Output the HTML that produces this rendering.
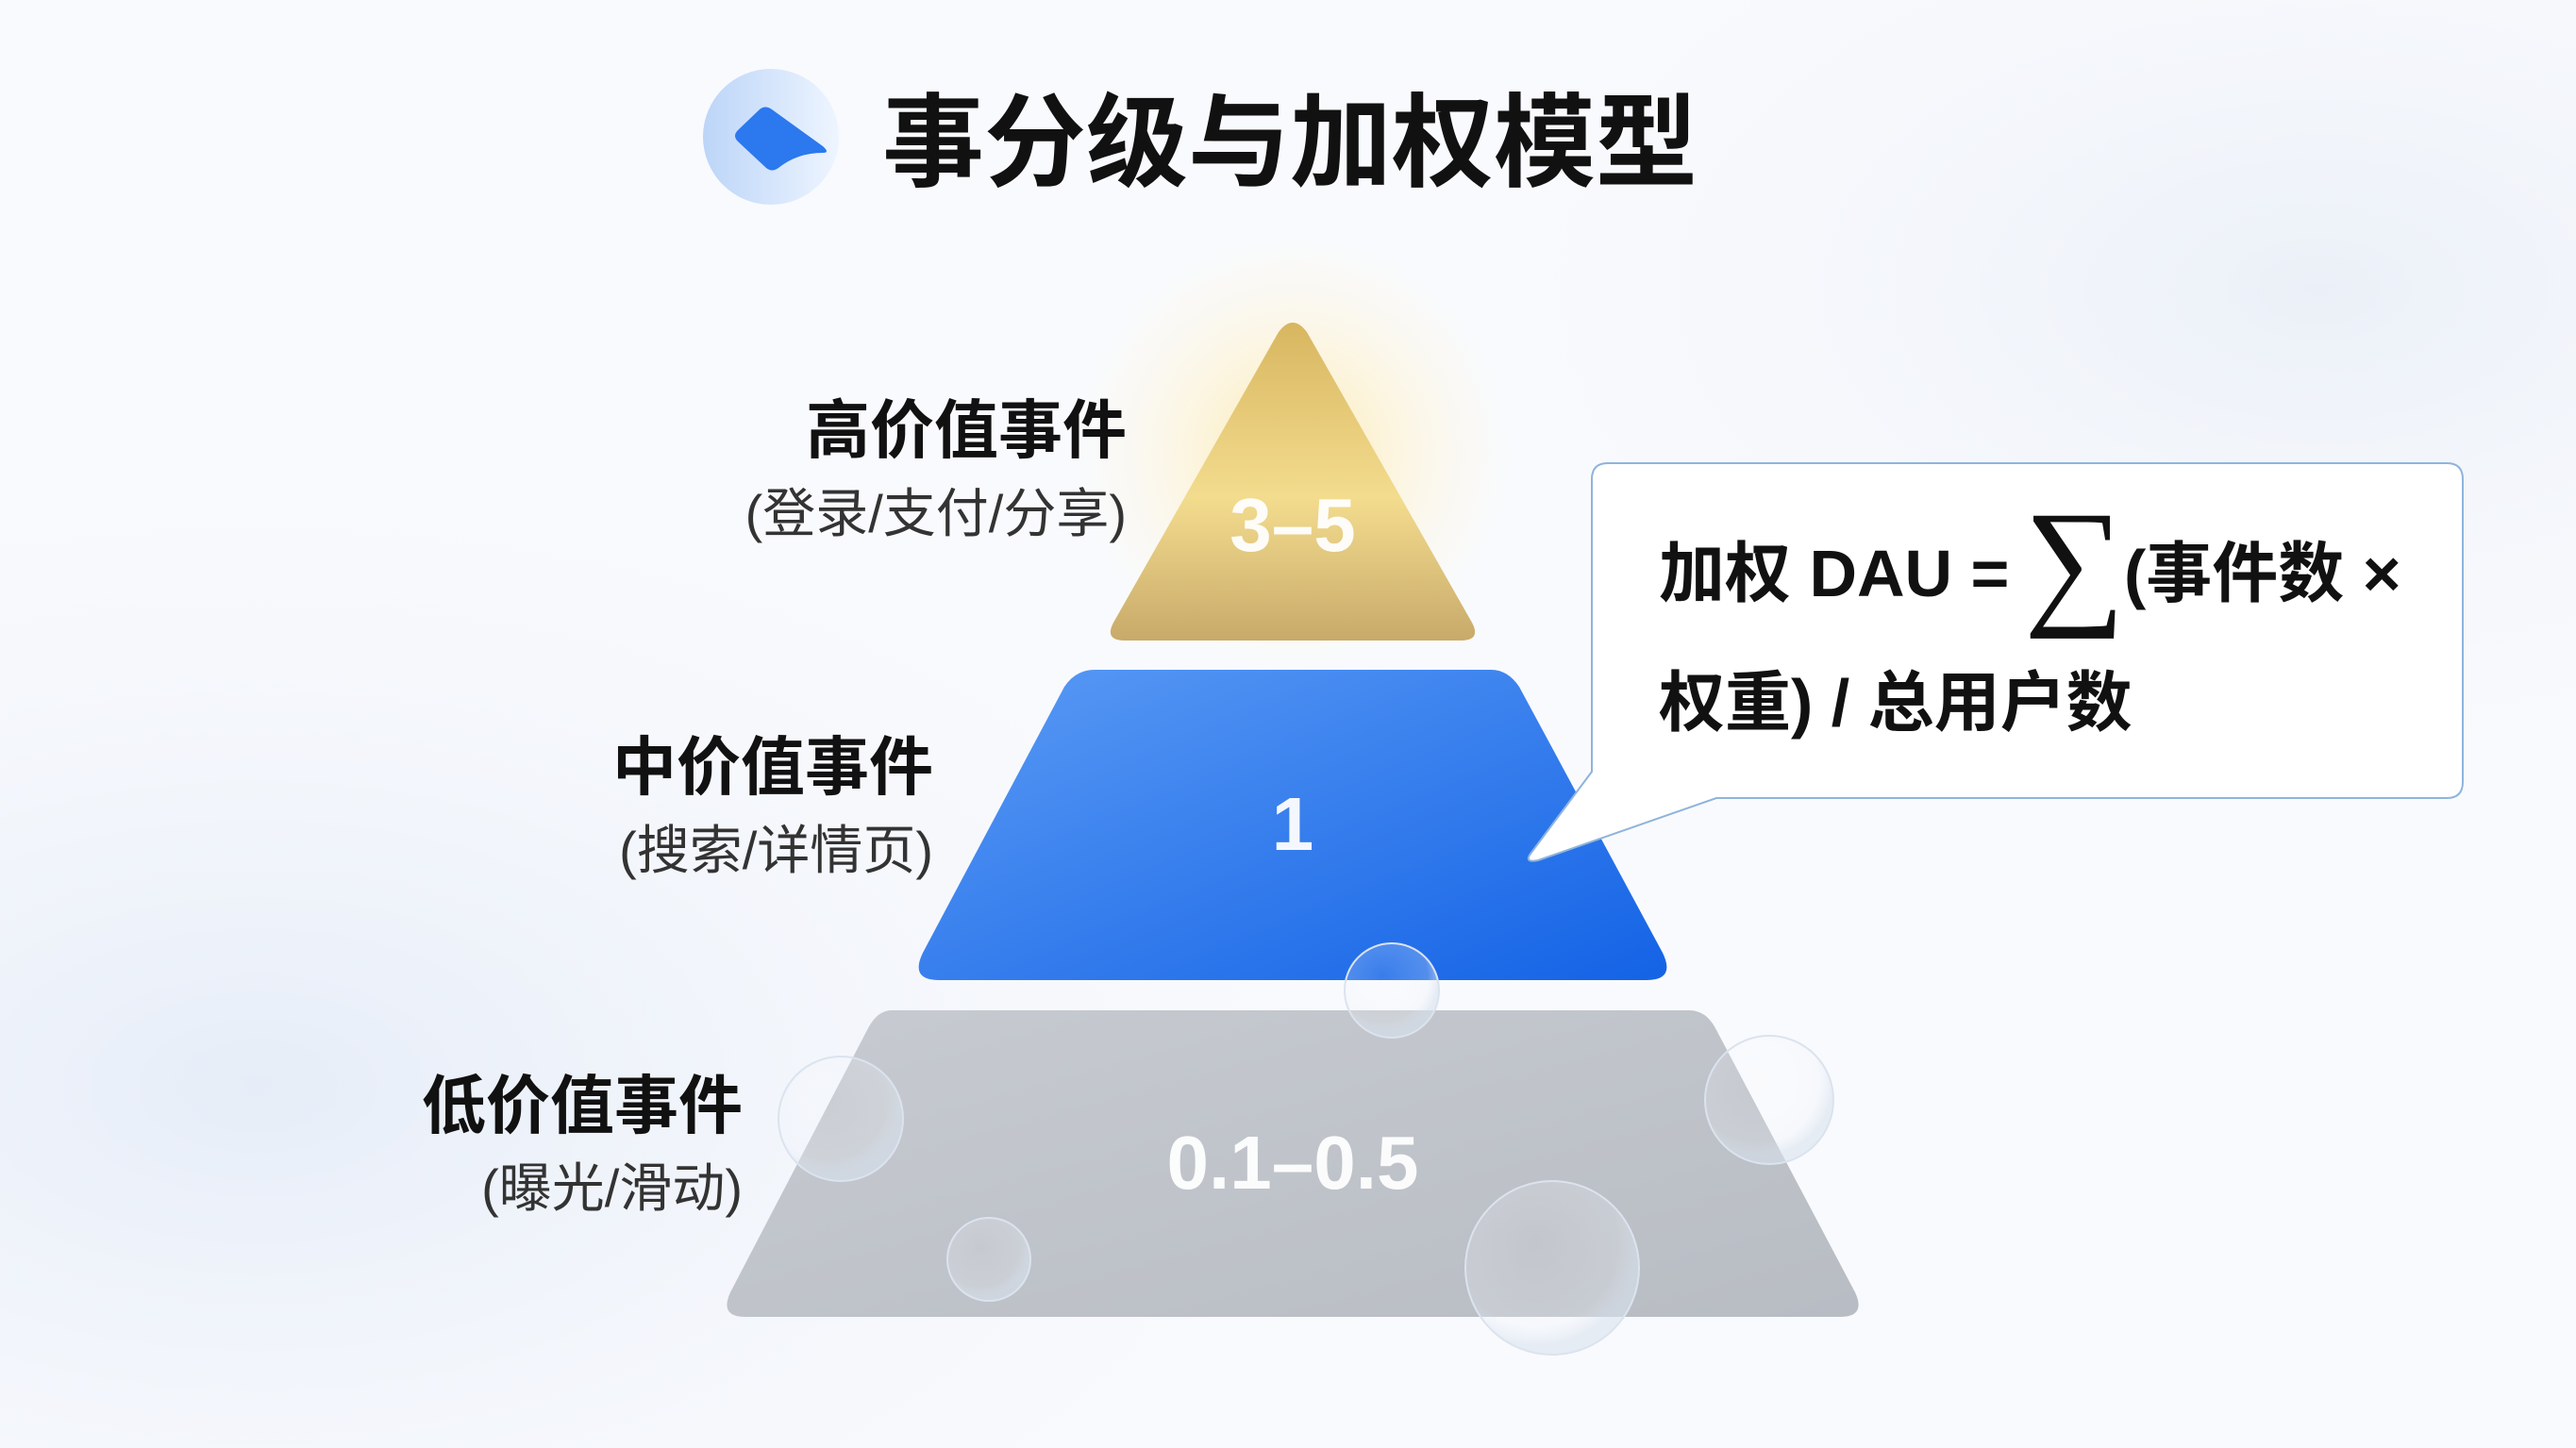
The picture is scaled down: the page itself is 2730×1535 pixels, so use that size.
<!DOCTYPE html>
<html><head><meta charset="utf-8"><style>
html,body{margin:0;padding:0}
body{width:2730px;height:1535px;position:relative;overflow:hidden;background:#f9fafd;font-family:"Liberation Sans","Noto Sans CJK SC",sans-serif}
.t{position:absolute;white-space:nowrap;line-height:1}
.r{text-align:right}
.b{font-weight:bold;color:#111}
.s{color:#333}
.n{color:#fff;transform:translate(-50%,-50%);font-weight:bold;opacity:0.95}
.f{font-size:70px;color:#111;font-weight:bold}
</style></head><body>
<svg width="2730" height="1535" style="position:absolute;left:0;top:0">
<defs>
<radialGradient id="bg1" cx="0.1" cy="0.75" r="0.5"><stop offset="0" stop-color="#e6edf8"/><stop offset="1" stop-color="#f9fafd" stop-opacity="0"/></radialGradient>
<radialGradient id="bg2" cx="0.9" cy="0.2" r="0.4"><stop offset="0" stop-color="#ebf0f8"/><stop offset="1" stop-color="#f9fafd" stop-opacity="0"/></radialGradient>
<radialGradient id="glow" cx="0.5" cy="0.5" r="0.5"><stop offset="0" stop-color="#ffe9a8" stop-opacity="0.9"/><stop offset="1" stop-color="#fff6d8" stop-opacity="0"/></radialGradient>
<linearGradient id="gold" x1="0" y1="0" x2="0" y2="1"><stop offset="0" stop-color="#d8b660"/><stop offset="0.55" stop-color="#f3dc8e"/><stop offset="1" stop-color="#c8aa6a"/></linearGradient>
<linearGradient id="blue" x1="0" y1="0" x2="1" y2="1"><stop offset="0" stop-color="#5b9bf5"/><stop offset="1" stop-color="#1463e6"/></linearGradient>
<linearGradient id="gray" x1="0" y1="0" x2="1" y2="1"><stop offset="0" stop-color="#c7cbd1"/><stop offset="1" stop-color="#b8bcc3"/></linearGradient>
<linearGradient id="ic" x1="0" y1="0" x2="1" y2="0"><stop offset="0" stop-color="#bcd5f8"/><stop offset="1" stop-color="#eef5ff"/></linearGradient>
<radialGradient id="bub" cx="0.4" cy="0.35" r="0.6"><stop offset="0" stop-color="#fff" stop-opacity="0.1"/><stop offset="0.8" stop-color="#eef3fa" stop-opacity="0.25"/><stop offset="1" stop-color="#d8e2ee" stop-opacity="0.6"/></radialGradient>
</defs>
<rect width="2730" height="1535" fill="url(#bg1)"/>
<rect width="2730" height="1535" fill="url(#bg2)"/>
<circle cx="817" cy="145" r="72" fill="url(#ic)"/>
<path d="M812 178 L782 150 Q776 144 782 138 L805 116 Q811 111 818 116 L872 155 Q880 162 872 162 Q845 162 825 178 Q818 183 812 178Z" fill="#2c78ee"/>
<ellipse cx="1370" cy="480" rx="230" ry="230" fill="url(#glow)"/>
<path d="M1355 352 Q1370 332 1385 352 L1560 660 Q1570 679 1548 679 L1192 679 Q1170 679 1180 660 Z" fill="url(#gold)"/>
<path d="M1160 710 L1580 710 Q1598 710 1610 728 L1762 1010 Q1776 1039 1745 1039 L995 1039 Q964 1039 978 1010 L1128 728 Q1140 710 1160 710Z" fill="url(#blue)"/>
<path d="M945 1071 L1790 1071 Q1808 1071 1818 1090 L1966 1370 Q1978 1396 1950 1396 L790 1396 Q762 1396 774 1370 L920 1090 Q930 1071 945 1071Z" fill="url(#gray)"/>
<path d="M1704 491 L2593 491 Q2610 491 2610 508 L2610 829 Q2610 846 2593 846 L1819 846 L1630 912 Q1615 915 1622 905 L1687 818 L1687 508 Q1687 491 1704 491Z" fill="#fff" stroke="#8fb4dc" stroke-width="2"/>
<g fill="url(#bub)" stroke="#dbe3ee" stroke-width="2">
<circle cx="1475" cy="1050" r="50"/><circle cx="891" cy="1186" r="66"/><circle cx="1875" cy="1166" r="68"/><circle cx="1048" cy="1335" r="44"/><circle cx="1645" cy="1344" r="92"/>
</g>
</svg>
<div class="t b" style="left:935px;top:98px;font-size:108px">事分级与加权模型</div>
<div class="t b r" style="right:1536px;top:423px;font-size:68px">高价值事件</div>
<div class="t s r" style="right:1536px;top:517px;font-size:56px">(登录/支付/分享)</div>
<div class="t b r" style="right:1741px;top:780px;font-size:68px">中价值事件</div>
<div class="t s r" style="right:1741px;top:874px;font-size:56px">(搜索/详情页)</div>
<div class="t b r" style="right:1943px;top:1139px;font-size:68px">低价值事件</div>
<div class="t s r" style="right:1943px;top:1232px;font-size:56px">(曝光/滑动)</div>
<div class="t n" style="left:1370px;top:557px;font-size:80px">3–5</div>
<div class="t n" style="left:1370px;top:874px;font-size:80px">1</div>
<div class="t n" style="left:1370px;top:1233px;font-size:80px">0.1–0.5</div>
<div class="t f" style="left:1758px;top:573px">加权 DAU =</div>
<div class="t" style="left:2145px;top:520px;font-size:150px;color:#111;font-family:'Liberation Serif',serif">∑</div>
<div class="t f" style="left:2251px;top:573px">(事件数 ×</div>
<div class="t f" style="left:1758px;top:710px">权重) / 总用户数</div>
</body></html>
